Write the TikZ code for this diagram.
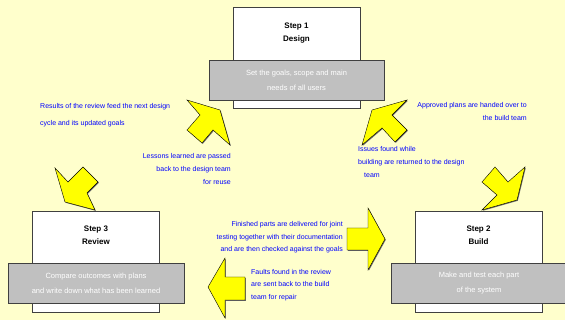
\documentclass[tikz,border=0pt]{standalone}
\usepackage{fontspec}
\setmainfont{Liberation Sans}
\usetikzlibrary{positioning,shadows}
\definecolor{bg}{HTML}{FFFFCC}
\definecolor{arrfill}{HTML}{FFFF00}
\definecolor{notefill}{HTML}{C0C0C0}
\definecolor{frame}{HTML}{404040}
\definecolor{labtext}{HTML}{0000FF}
\tikzset{
  stage/.style = {draw=frame,fill=white,inner sep=0pt,minimum width=127pt,minimum height=101pt,
    drop shadow={shadow xshift=0.8pt,shadow yshift=-0.8pt,fill=black!60,opacity=1}},
  note/.style = {draw=frame,fill=notefill,inner sep=0pt,minimum width=175pt,minimum height=40pt,
    text=white,align=center,font=\fontsize{7.5}{15}\selectfont,
    drop shadow={shadow xshift=0.8pt,shadow yshift=-0.8pt,fill=black!60,opacity=1}},
  ttl/.style = {font=\bfseries\fontsize{8}{13}\selectfont,align=center,inner sep=0pt},
  lab/.style = {text=labtext,font=\fontsize{7}{12.5}\selectfont,inner sep=0pt},
  barr/.style = {draw=black,fill=arrfill,line join=miter,thin,
    drop shadow={shadow xshift=0.8pt,shadow yshift=-0.8pt,fill=black!60,opacity=1}}
}

\begin{document}
\begin{tikzpicture}[x=1pt,y=-1pt]
\useasboundingbox (0,0) rectangle (565,320);
\fill[bg] (0,0) rectangle (565,320);

% stage 1 (top)
\node[stage] (s1) at (296.5,58) {};
\node[ttl] (s1t) at (296.5,33.5) {Step 1\\Design};
\node[note] (s1n) at (296.5,80) {Set the goals, scope and main\\needs of all users};

% stage 3 (bottom left)
\node[stage] (s3) at (96,262) {};
\node[ttl] (s3t) at (96,235.5) {Step 3\\Review};
\node[note,minimum width=176pt] (s3n) at (96,283) {Compare outcomes with plans\\and write down what has been learned};

% stage 2 (bottom right)
\node[stage] (s2) at (478.5,262) {};
\node[ttl] (s2t) at (478.5,235.5) {Step 2\\Build};
\node[note,minimum width=176pt] (s2n) at (479,283) {Make and test each part\\of the system};

% block arrows
\draw[barr] (187,100) -- (220,110) -- (230,145) -- (213,130) -- (202,143)
  -- (187,130) -- (200,115) -- cycle;
\draw[barr] (407,100) -- (392,115) -- (407,130) -- (395,142) -- (382,128)
  -- (362,145) -- (372,110) -- cycle;
\draw[barr] (55,168) -- (68,182) -- (83,167) -- (98,182) -- (87,193)
  -- (95,210) -- (65,202) -- cycle;
\draw[barr] (495,167) -- (508,182) -- (525,167) -- (517,200) -- (482,210)
  -- (497,195) -- (482,182) -- cycle;
\draw[barr] (347,228) -- (368,228) -- (368,208) -- (385,239) -- (368,270)
  -- (368,250) -- (347,250) -- cycle;
\draw[barr] (208,287) -- (225,258) -- (225,277) -- (245,277) -- (245,300)
  -- (225,300) -- (225,318) -- cycle;

% labels
\node[lab,align=left,anchor=west] (l31) at (40,115) {Results of the review feed the next design\\[4pt]cycle and its updated goals};
\node[lab,align=right,anchor=east] (l32) at (231,169) {Lessons learned are passed\\back to the design team\\for reuse};
\node[lab,align=right,anchor=east] (l12) at (527,111.5) {Approved plans are handed over to\\the build team};
\node[lab,align=left,anchor=west] (l21) at (358,162) {Issues found while\\building are returned to the design\\\hspace{6pt}team};
\node[lab,align=right,anchor=east] (l23) at (343,237.5) {Finished parts are delivered for joint\\testing together with their documentation\\and are then checked against the goals};
\node[lab,align=left,anchor=west] (l32b) at (251,285) {Faults found in the review\\are sent back to the build\\team for repair};
\end{tikzpicture}
\end{document}
